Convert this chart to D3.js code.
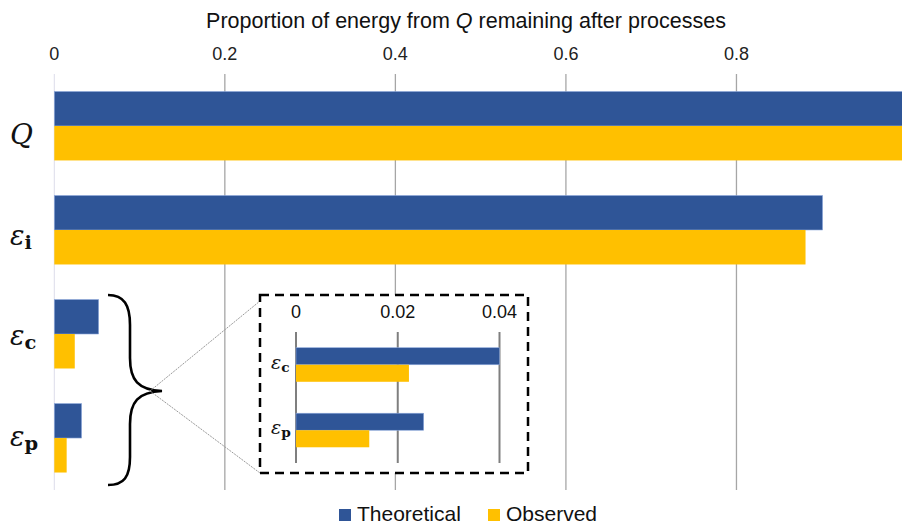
<!DOCTYPE html>
<html>
<head>
<meta charset="utf-8">
<script src="https://cdn.jsdelivr.net/npm/d3@7"></script>
<style>
  body { margin: 0; background: #fff; }
  svg { display: block; }
</style>
</head>
<body>
<div id="chart"></div>
<script>
// main chart data
const categories = ['Q', 'ei', 'ec', 'ep']
const series = ['Theoretical', 'Observed']
const theoretical = [1.0, 0.901, 0.052, 0.032]
const observed = [1.0, 0.881, 0.024, 0.0145]
const mainTicks = [0, 0.2, 0.4, 0.6, 0.8]

// inset (zoom on the two small ones)
const insetCategories = ['ec', 'ep']
const insetTheoretical = [0.040, 0.0251]
const insetObserved = [0.0222, 0.0144]
const insetTicks = [0, 0.02, 0.04]

const colors = { Theoretical: '#2f5597', Observed: '#ffc000' }
const labelSub = { Q: null, ei: 'i', ec: 'c', ep: 'p' }
const labelShift = { Q: 18, ei: 15, ec: 11, ep: 8 }   // baseline nudge per row

const width = 902, height = 525
const svg = d3.select('#chart').append('svg')
  .attr('width', width).attr('height', height)

const x = d3.scaleLinear().domain([0, 1]).range([54.3, 907])
const y = d3.scaleBand().domain(categories).range([74, 490])
  .paddingInner(0.337).paddingOuter(0.168)
const ySub = d3.scaleBand().domain(series).range([0, y.bandwidth()])

// gridlines + top axis labels
const grid = svg.append('g')
grid.selectAll('line').data(mainTicks).enter().append('line')
  .attr('x1', d => x(d)).attr('x2', d => x(d))
  .attr('y1', 74).attr('y2', 490)
  .attr('stroke', d => d === 0 ? '#dcdcea' : '#a6a6a6')
  .attr('stroke-width', d => d === 0 ? 1 : 1.3)

svg.append('g').selectAll('text').data(mainTicks).enter().append('text')
  .attr('x', d => x(d)).attr('y', 60)
  .attr('text-anchor', 'middle')
  .attr('font-family', 'Liberation Sans, Arial, sans-serif')
  .attr('font-size', 18).attr('fill', '#222')
  .text(d => d === 0 ? '0' : d3.format('.1f')(d))

const title = svg.append('text')
  .attr('x', 466).attr('y', 28).attr('text-anchor', 'middle')
  .attr('font-family', 'Liberation Sans, Arial, sans-serif')
  .attr('font-size', 21.5).attr('fill', '#111')
title.append('tspan').text('Proportion of energy from ')
title.append('tspan').attr('font-style', 'italic').text('Q')
title.append('tspan').text(' remaining after processes')

// bars
const rows = categories.map((c, i) => ({ cat: c, Theoretical: theoretical[i], Observed: observed[i] }))
const groups = svg.append('g').selectAll('g').data(rows).enter().append('g')
  .attr('transform', d => `translate(0,${y(d.cat)})`)
groups.selectAll('rect').data(d => series.map(s => ({ s, v: d[s] }))).enter().append('rect')
  .attr('x', x(0)).attr('y', d => ySub(d.s))
  .attr('width', d => x(d.v) - x(0)).attr('height', ySub.bandwidth())
  .attr('fill', d => colors[d.s])
  .attr('stroke', d => d.s === 'Theoretical' ? '#8faadc' : 'none')
  .attr('stroke-width', 0.6)

// category labels (math-ish)
function mathLabel(g, cat, size) {
  const t = g.append('text')
    .attr('font-family', 'DejaVu Serif, serif')
    .attr('font-size', size).attr('fill', '#111')
  if (cat === 'Q') {
    t.append('tspan').attr('font-style', 'italic').text('Q')
  } else {
    t.append('tspan').attr('font-style', 'italic').text('ε')
    t.append('tspan').attr('font-weight', 'bold').attr('font-size', size * 0.72)
      .attr('dy', size * 0.16).text(labelSub[cat])
  }
  return t
}
categories.forEach(c => {
  mathLabel(svg, c, c === 'Q' ? 28 : 27)
    .attr('x', c === 'Q' ? 10 : 10)
    .attr('y', y(c) + y.bandwidth() / 2 + labelShift[c])
})

// brace
svg.append('path')
  .attr('d', 'M108,295 C124,295 130,305 130,325 L130,358 C130,380 138,390 162,391 C138,392 130,402 130,424 L130,457 C130,477 124,485 108,485')
  .attr('fill', 'none').attr('stroke', '#000').attr('stroke-width', 2.6)

// zoom connector lines
svg.append('g').selectAll('line').data([301, 473]).enter().append('line')
  .attr('x1', 150).attr('y1', 391).attr('x2', 260).attr('y2', d => d)
  .attr('stroke', '#9a9a9a').attr('stroke-width', 1).attr('stroke-dasharray', '2,1')

// inset box
svg.append('rect')
  .attr('x', 260).attr('y', 295).attr('width', 268).attr('height', 178)
  .attr('fill', '#fff').attr('stroke', '#000').attr('stroke-width', 2.5)
  .attr('stroke-dasharray', '9,6')

const xi = d3.scaleLinear().domain([0, 0.04]).range([296, 499.5])
const yi = d3.scaleBand().domain(insetCategories).range([332, 463])
  .paddingInner(0.48).paddingOuter(0.24)
const yiSub = d3.scaleBand().domain(series).range([0, yi.bandwidth()])

svg.append('g').selectAll('line').data(insetTicks).enter().append('line')
  .attr('x1', d => xi(d)).attr('x2', d => xi(d))
  .attr('y1', 332).attr('y2', 463)
  .attr('stroke', '#7f7f7f').attr('stroke-width', 2)

svg.append('g').selectAll('text').data(insetTicks).enter().append('text')
  .attr('x', d => xi(d)).attr('y', 318).attr('text-anchor', 'middle')
  .attr('font-family', 'Liberation Sans, Arial, sans-serif')
  .attr('font-size', 18).attr('fill', '#111')
  .text(d => d === 0 ? '0' : d3.format('.2f')(d))

const insetRows = insetCategories.map((c, i) => ({ cat: c, Theoretical: insetTheoretical[i], Observed: insetObserved[i] }))
const ig = svg.append('g').selectAll('g').data(insetRows).enter().append('g')
  .attr('transform', d => `translate(0,${yi(d.cat)})`)
ig.selectAll('rect').data(d => series.map(s => ({ s, v: d[s] }))).enter().append('rect')
  .attr('x', xi(0)).attr('y', d => yiSub(d.s))
  .attr('width', d => xi(d.v) - xi(0)).attr('height', yiSub.bandwidth())
  .attr('fill', d => colors[d.s])
  .attr('stroke', d => d.s === 'Theoretical' ? '#8faadc' : 'none')
  .attr('stroke-width', 0.6)

insetCategories.forEach(c => {
  mathLabel(svg, c, 19).attr('x', 271).attr('y', yi(c) + yi.bandwidth() / 2 + 4)
})

// legend
const legend = svg.append('g')
const legendX = [339, 488]
series.forEach((s, i) => {
  legend.append('rect').attr('x', legendX[i]).attr('y', 509)
    .attr('width', 12).attr('height', 12).attr('fill', colors[s])
  legend.append('text').attr('x', legendX[i] + 18).attr('y', 521)
    .attr('font-family', 'Liberation Sans, Arial, sans-serif')
    .attr('font-size', 21).attr('fill', '#111').text(s)
})
</script>
</body>
</html>
